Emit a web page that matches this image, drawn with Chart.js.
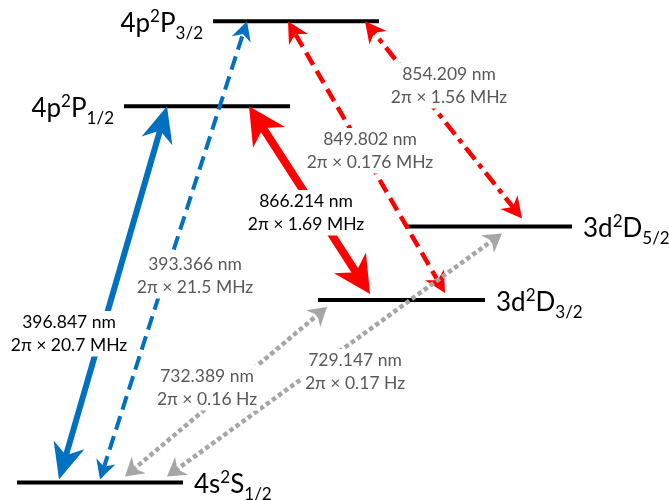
<!DOCTYPE html>
<html>
<head>
<meta charset="utf-8">
<script src="https://cdn.jsdelivr.net/npm/chart.js@4"></script>
<style>
  html, body { margin: 0; padding: 0; background: #fff; }
  #wrap { width: 669px; height: 500px; position: relative; }
</style>
</head>
<body>
<div id="wrap"><canvas id="c"></canvas></div>
<script>
// Energy levels of Ca+ (vertical position in diagram units, horizontal extent of each bar)
const levelConfig = ['4s', '3d', '3d', '4p', '4p'];
const levelTerm   = ['S', 'D', 'D', 'P', 'P'];
const levelJ      = ['1/2', '3/2', '5/2', '1/2', '3/2'];
const levelHeight = [17.5, 200, 273.5, 393.7, 478.7];
const levelFrom   = [17, 318, 406, 124, 213];
const levelTo     = [183, 485, 572, 290, 379];

// Transitions between levels
const lineWavelength = ['396.847 nm', '393.366 nm', '866.214 nm', '849.802 nm', '854.209 nm', '732.389 nm', '729.147 nm'];
const lineLinewidth  = ['2π × 20.7 MHz', '2π × 21.5 MHz', '2π × 1.69 MHz', '2π × 0.176 MHz', '2π × 1.56 MHz', '2π × 0.16 Hz', '2π × 0.17 Hz'];
const lineLower  = [0, 0, 1, 1, 2, 0, 0];
const lineUpper  = [3, 4, 3, 4, 4, 1, 2];
const lineLowerX = [59, 100, 370, 445, 522, 125, 167];
const lineUpperX = [167, 247, 249, 288, 365, 327, 502];
const lineKind   = ['blueMain', 'blueDash', 'redMain', 'redDash', 'redDashDot', 'grayDot', 'grayDot'];

// Label anchors (centre x, first-line baseline) in diagram units
const labelX = [69, 195, 306, 370, 449, 207, 355];
const labelY = [172, 230, 293, 355, 420, 118, 134];
const levelLabelSide = ['right', 'right', 'right', 'left', 'left'];

const styles = {
  blueMain:   { color: '#0070C0', width: 6,   dash: [],            head: 36, half: 16, gapLow: 3, gapHigh: 0, text: '#000000' },
  blueDash:   { color: '#0070C0', width: 4,   dash: [14, 7],       head: 19, half: 10, gapLow: 3, gapHigh: 0, text: '#595959' },
  redMain:    { color: '#FF0000', width: 8,   dash: [],            head: 37, half: 19, gapLow: 6, gapHigh: 0, text: '#000000' },
  redDash:    { color: '#FF0000', width: 4.5, dash: [14, 7],       head: 21, half: 11, gapLow: 7, gapHigh: 0, text: '#595959' },
  redDashDot: { color: '#FF0000', width: 4.5, dash: [15, 6, 5, 6], head: 21, half: 11, gapLow: 8, gapHigh: 0, text: '#595959' },
  grayDot:    { color: '#A6A6A6', width: 4.5, dash: [4.5, 3],      head: 18, half: 11, gapLow: 6, gapHigh: 7, text: '#595959' }
};
const NOTCH = 0.7;
const TEXT_FONT = 'Lato, "Noto Sans", sans-serif';

function stealthHead(ctx, tip, ux, uy, len, half, color) {
  const bx = tip.x - ux * len, by = tip.y - uy * len;
  const nx = -uy, ny = ux;
  ctx.beginPath();
  ctx.moveTo(tip.x, tip.y);
  ctx.lineTo(bx + nx * half, by + ny * half);
  ctx.lineTo(tip.x - ux * len * NOTCH, tip.y - uy * len * NOTCH);
  ctx.lineTo(bx - nx * half, by - ny * half);
  ctx.closePath();
  ctx.fillStyle = color;
  ctx.fill();
}

function drawTermLabel(ctx, i, x, y, align) {
  const big = '26px ' + TEXT_FONT, small = '17px ' + TEXT_FONT;
  const runs = [
    { t: levelConfig[i], f: big, dy: 0 },
    { t: '2', f: small, dy: -10 },
    { t: levelTerm[i], f: big, dy: 0 },
    { t: levelJ[i], f: small, dy: 7 }
  ];
  let total = 0;
  runs.forEach(r => { ctx.font = r.f; r.w = ctx.measureText(r.t).width; total += r.w; });
  let cx = align === 'left' ? x - total : x;
  ctx.fillStyle = '#000';
  ctx.textAlign = 'left';
  ctx.textBaseline = 'alphabetic';
  runs.forEach(r => { ctx.font = r.f; ctx.fillText(r.t, cx, y + r.dy); cx += r.w; });
}

const diagramPlugin = {
  id: 'diagram',
  afterDatasetsDraw(chart) {
    const ctx = chart.ctx;
    const sx = chart.scales.x, sy = chart.scales.y;
    ctx.save();

    // transition arrows
    lineWavelength.forEach((_, i) => {
      const st = styles[lineKind[i]];
      const lo = { x: sx.getPixelForValue(lineLowerX[i]), y: sy.getPixelForValue(levelHeight[lineLower[i]]) - st.gapLow };
      const hi = { x: sx.getPixelForValue(lineUpperX[i]), y: sy.getPixelForValue(levelHeight[lineUpper[i]]) + st.gapHigh };
      const dx = hi.x - lo.x, dy = hi.y - lo.y, d = Math.hypot(dx, dy);
      const ux = dx / d, uy = dy / d;
      const inset = st.head * (NOTCH - 0.15);
      ctx.beginPath();
      ctx.setLineDash(st.dash);
      ctx.lineCap = 'butt';
      ctx.lineWidth = st.width;
      ctx.strokeStyle = st.color;
      ctx.moveTo(lo.x + ux * inset, lo.y + uy * inset);
      ctx.lineTo(hi.x - ux * inset, hi.y - uy * inset);
      ctx.stroke();
      ctx.setLineDash([]);
      stealthHead(ctx, hi, ux, uy, st.head, st.half, st.color);
      stealthHead(ctx, lo, -ux, -uy, st.head, st.half, st.color);
    });

    // wavelength / linewidth labels on white boxes
    ctx.font = '17.5px ' + TEXT_FONT;
    ctx.textAlign = 'center';
    ctx.textBaseline = 'alphabetic';
    lineWavelength.forEach((w, i) => {
      const st = styles[lineKind[i]];
      const x = sx.getPixelForValue(labelX[i]);
      const y = sy.getPixelForValue(labelY[i]);
      const lh = 22.5;
      const mw = Math.max(ctx.measureText(w).width, ctx.measureText(lineLinewidth[i]).width);
      ctx.fillStyle = '#fff';
      ctx.fillRect(x - mw / 2 - 3, y - 17, mw + 6, lh + 23);
      ctx.fillStyle = st.text;
      ctx.fillText(w, x, y);
      ctx.fillText(lineLinewidth[i], x, y + lh);
    });

    // term symbols next to each level
    levelConfig.forEach((_, i) => {
      const y = sy.getPixelForValue(levelHeight[i]) + 10.5;
      if (levelLabelSide[i] === 'left') {
        drawTermLabel(ctx, i, sx.getPixelForValue(levelFrom[i]) - 10, y, 'left');
      } else {
        drawTermLabel(ctx, i, sx.getPixelForValue(levelTo[i]) + 11, y, 'right');
      }
    });
    ctx.restore();
  }
};

new Chart(document.getElementById('c'), {
  type: 'scatter',
  data: {
    datasets: levelConfig.map((c, i) => ({
      label: c + levelTerm[i] + levelJ[i],
      data: [{ x: levelFrom[i], y: levelHeight[i] }, { x: levelTo[i], y: levelHeight[i] }],
      showLine: true,
      borderColor: '#000',
      borderWidth: 4,
      pointRadius: 0,
      fill: false
    }))
  },
  options: {
    responsive: true,
    maintainAspectRatio: false,
    animation: false,
    layout: { padding: 0 },
    plugins: { legend: { display: false }, tooltip: { enabled: false } },
    scales: {
      x: { type: 'linear', min: 0, max: 669, display: false },
      y: { type: 'linear', min: 0, max: 500, display: false }
    }
  },
  plugins: [diagramPlugin]
});
</script>
</body>
</html>
